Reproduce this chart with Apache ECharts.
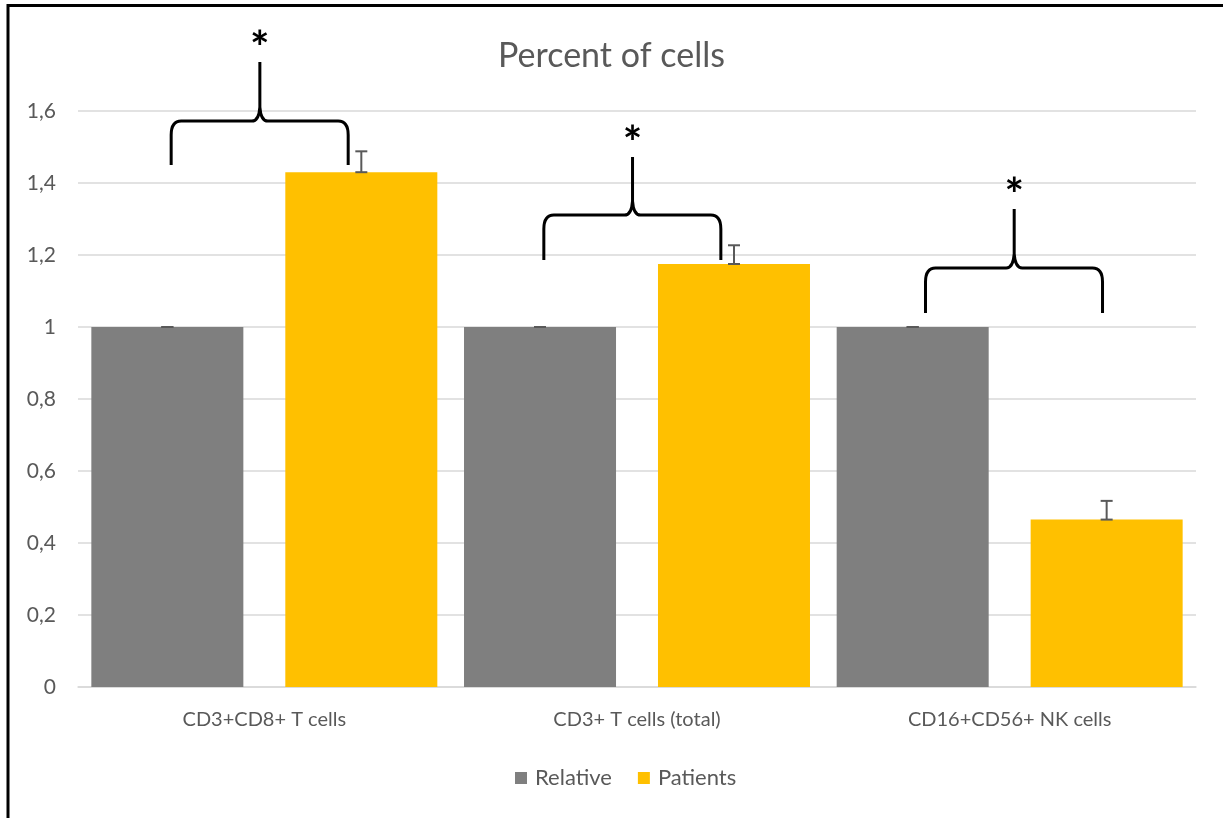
<!DOCTYPE html>
<html>
<head>
<meta charset="utf-8">
<title>Percent of cells</title>
<script src="https://cdn.jsdelivr.net/npm/echarts@6/dist/echarts.min.js"></script>
<style>
  html, body { margin: 0; padding: 0; background: #fff; overflow: hidden; }
  #chart { width: 1223px; height: 818px; }
</style>
</head>
<body>
<div id="chart"></div>
<script>
// data
const categories = ["CD3+CD8+ T cells", "CD3+ T cells (total)", "CD16+CD56+ NK cells"];
const relativeValues = [1, 1, 1];
const patientValues = [1.43, 1.175, 0.465];
const relativeErrors = [0, 0, 0];
const patientErrors = [0.058, 0.052, 0.052];
// significance braces: ends, horizontal level, tip (axis values)
const braceEnds = [1.45, 1.186, 1.039];
const braceLevels = [1.572, 1.311, 1.164];
const braceTips = [1.736, 1.472, 1.328];
const yTicks = [0, 0.2, 0.4, 0.6, 0.8, 1, 1.2, 1.4, 1.6];

const grey = "#7f7f7f";
const yellow = "#ffc000";
const textColor = "#595959";
const font = "Lato";

const catGap = 0.0716;
const barGap = 0.276;

// same layout math echarts uses for the two bar series
function barOffset(bw, idx) {
  const barW = (bw * (1 - catGap)) / (2 + barGap);
  const step = barW * (1 + barGap);
  return -step / 2 + idx * step;
}

function errorRender(idx) {
  return function (params, api) {
    const c = api.coord([api.value(0), api.value(1)]);
    const top = api.coord([api.value(0), api.value(1) + api.value(2)]);
    const bw = api.size([1, 0])[0];
    const x = c[0] + barOffset(bw, idx);
    const cap = 6;
    const style = { stroke: "#595959", lineWidth: 2 };
    return {
      type: "group",
      children: [
        { type: "line", shape: { x1: x, y1: c[1], x2: x, y2: top[1] }, style },
        { type: "line", shape: { x1: x - cap, y1: c[1], x2: x + cap, y2: c[1] }, style },
        { type: "line", shape: { x1: x - cap, y1: top[1], x2: x + cap, y2: top[1] }, style },
      ],
    };
  };
}

function braceRender(params, api) {
  const cx = api.coord([api.value(0), 0])[0];
  const bw = api.size([1, 0])[0];
  const yEnd = api.coord([api.value(0), api.value(1)])[1];
  const yMid = api.coord([api.value(0), api.value(2)])[1];
  const yTip = api.coord([api.value(0), api.value(3)])[1];
  // the last brace sits a little further right in the original
  const shift = params.dataIndex === 2 ? 9 : 0;
  const xL = cx - bw * 0.25 + shift;
  const xR = cx + bw * 0.225 + shift;
  const xc = cx - bw * 0.012 + shift;
  const r = 10;
  const d =
    "M" + xL + " " + yEnd +
    " L" + xL + " " + (yMid + r * 1.4) +
    " Q" + xL + " " + yMid + " " + (xL + r) + " " + yMid +
    " L" + (xc - 8) + " " + yMid +
    " Q" + (xc - 1) + " " + yMid + " " + xc + " " + (yMid - 14) +
    " L" + xc + " " + yTip +
    " M" + xc + " " + (yMid - 14) +
    " Q" + (xc + 1) + " " + yMid + " " + (xc + 8) + " " + yMid +
    " L" + (xR - r) + " " + yMid +
    " Q" + xR + " " + yMid + " " + xR + " " + (yMid + r * 1.4) +
    " L" + xR + " " + yEnd;
  return {
    type: "group",
    children: [
      {
        type: "path",
        shape: { pathData: d },
        style: { fill: null, stroke: "#000", lineWidth: 3 },
      },
      {
        type: "text",
        style: {
          text: "*",
          x: xc,
          y: yTip - 13,
          align: "center",
          verticalAlign: "middle",
          font: "bold 46px " + font,
          fill: "#000",
        },
      },
    ],
  };
}

const chart = echarts.init(document.getElementById("chart"));
const option = {
  animation: false,
  backgroundColor: "#fff",
  textStyle: { fontFamily: font },
  title: {
    text: "Percent of cells",
    left: "center",
    top: 34,
    textStyle: { color: textColor, fontSize: 34, fontWeight: "normal", fontFamily: font },
  },
  graphic: [
    {
      type: "rect",
      shape: { x: 8, y: 5.5, width: 1400, height: 1000 },
      style: { fill: null, stroke: "#000", lineWidth: 3 },
      silent: true,
      z: 100,
    },
  ],
  legend: {
    bottom: 24,
    left: 510,
    data: ["Relative", "Patients"],
    itemWidth: 12,
    itemHeight: 12,
    itemGap: 26,
    icon: "rect",
    textStyle: { color: textColor, fontSize: 22, fontFamily: font, padding: [0, 0, 0, 3] },
  },
  grid: { left: 78, right: 27, top: 111, bottom: 131, containLabel: false },
  xAxis: {
    type: "category",
    data: categories,
    axisLine: { lineStyle: { color: "#d9d9d9", width: 1.5 } },
    axisTick: { show: false },
    axisLabel: { color: textColor, fontSize: 20, margin: 23, fontFamily: font },
  },
  yAxis: {
    type: "value",
    min: 0,
    max: yTicks[yTicks.length - 1],
    interval: 0.2,
    axisLine: { show: false },
    axisTick: { show: false },
    splitLine: { lineStyle: { color: "#d9d9d9", width: 1.5 } },
    axisLabel: {
      color: textColor,
      fontSize: 21,
      margin: 22,
      fontFamily: font,
      formatter: (v) => String(+v.toFixed(1)).replace(".", ","),
    },
  },
  series: [
    {
      name: "Relative",
      type: "bar",
      data: relativeValues,
      itemStyle: { color: grey },
      barCategoryGap: (catGap * 100).toFixed(2) + "%",
      barGap: (barGap * 100).toFixed(1) + "%",
    },
    {
      name: "Patients",
      type: "bar",
      data: patientValues,
      itemStyle: { color: yellow },
    },
    {
      name: "relErr",
      type: "custom",
      renderItem: errorRender(0),
      data: categories.map((c, i) => [i, relativeValues[i], relativeErrors[i]]),
      z: 5,
    },
    {
      name: "patErr",
      type: "custom",
      renderItem: errorRender(1),
      data: categories.map((c, i) => [i, patientValues[i], patientErrors[i]]),
      z: 5,
    },
    {
      name: "braces",
      type: "custom",
      renderItem: braceRender,
      clip: false,
      data: categories.map((c, i) => [i, braceEnds[i], braceLevels[i], braceTips[i]]),
      z: 10,
    },
  ],
};
chart.setOption(option);
</script>
</body>
</html>
